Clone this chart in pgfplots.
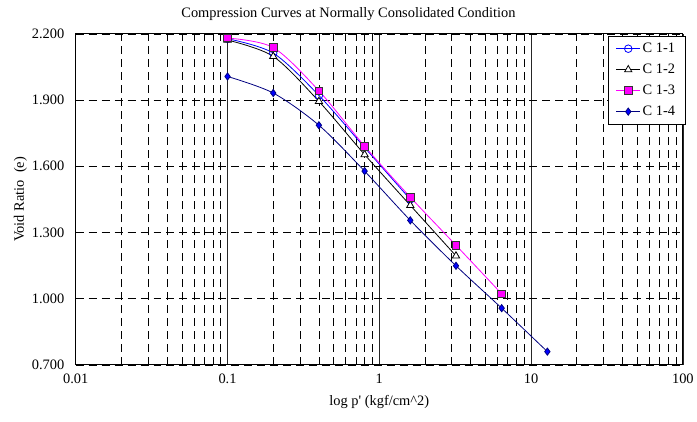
\documentclass[border=0pt]{standalone}
\usepackage{fontspec}
\setmainfont{Liberation Serif}
\usepackage{pgfplots}
\pgfplotsset{compat=1.18}
\definecolor{navyc}{RGB}{0,0,128}
\definecolor{magc}{RGB}{255,0,255}
\begin{document}
\begin{tikzpicture}[font=\fontsize{14.5}{16}\selectfont]
\begin{axis}[
  xmode=log, log basis x=10,
  scale only axis, width=609bp, height=332bp,
  xmin=0.01, xmax=100, ymin=0.7, ymax=2.2,
  xtick={0.01,0.1,1,10,100}, xticklabels={0.01,0.1,1,10,100},
  minor xtick={0.02,0.03,0.04,0.05,0.06,0.07,0.08,0.09,0.2,0.3,0.4,0.5,0.6,0.7,0.8,0.9,2,3,4,5,6,7,8,9,20,30,40,50,60,70,80,90},
  ytick={0.7,1.0,1.3,1.6,1.9,2.2},
  yticklabel style={xshift=-8bp, /pgf/number format/fixed, /pgf/number format/fixed zerofill, /pgf/number format/precision=3},
  /pgf/number format/assume math mode=true,
  major tick length=0pt, minor tick length=0pt,
  xmajorgrids, xminorgrids, ymajorgrids,
  major x grid style={black!85, solid, line width=0.6bp},
  minor x grid style={black, dash pattern=on 8bp off 5bp, line width=0.6bp},
  major y grid style={black, dash pattern=on 8bp off 5bp, line width=0.6bp},
  axis line style={black, line width=0.9bp},
  xticklabel style={yshift=-6bp},
  title={Compression Curves at Normally Consolidated Condition},
  title style={font=\fontsize{14.5}{16}\selectfont, yshift=4bp, xshift=-31bp},
  xlabel={log p\textquotesingle{} (kgf/cm\textasciicircum 2)},
  ylabel={Void Ratio\ \ (e)},
  xlabel style={yshift=-4bp},
  ylabel style={yshift=-2bp},
  legend style={at={(rel axis cs:1.004,0.994)}, anchor=north east, draw=black, line width=0.7bp,
    font=\fontsize{14.5}{16}\selectfont, row sep=6bp, inner xsep=8bp, inner ysep=5bp},
  legend image code/.code={\draw[mark repeat=2,mark phase=2] plot coordinates {(0bp,0bp)(12bp,0bp)(24bp,0bp)};},
  legend cell align=left,
  every axis plot/.append style={line width=0.8bp},
]
\addplot[blue, smooth, mark=o, mark size=3.8bp, mark options={fill=white, solid}] coordinates {
(0.1,2.178)(0.2,2.113)(0.4,1.921)(0.8,1.685)(1.6,1.450)};
\addlegendentry{C 1-1}
\addplot[black, smooth, mark=triangle*, mark size=4.2bp, mark options={fill=white, solid}] coordinates {
(0.1,2.172)(0.2,2.098)(0.4,1.894)(0.8,1.653)(1.6,1.423)(3.2,1.194)};
\addlegendentry{C 1-2}
\addplot[magc, smooth, mark=square*, mark size=3.8bp, mark options={fill=magc, draw=black!80, solid}] coordinates {
(0.1,2.181)(0.2,2.138)(0.4,1.942)(0.8,1.691)(1.6,1.460)(3.2,1.242)(6.4,1.022)};
\addlegendentry{C 1-3}
\addplot[navyc, smooth, mark=diamond*, mark size=3.6bp, mark options={fill=blue, draw=navyc, solid}] coordinates {
(0.1,2.007)(0.2,1.932)(0.4,1.786)(0.8,1.578)(1.6,1.355)(3.2,1.149)(6.4,0.957)(12.8,0.760)};
\addlegendentry{C 1-4}
\end{axis}
\path (current axis.south west) ++(-76bp,-57bp) rectangle ++(697bp,423bp);
\end{tikzpicture}
\end{document}
